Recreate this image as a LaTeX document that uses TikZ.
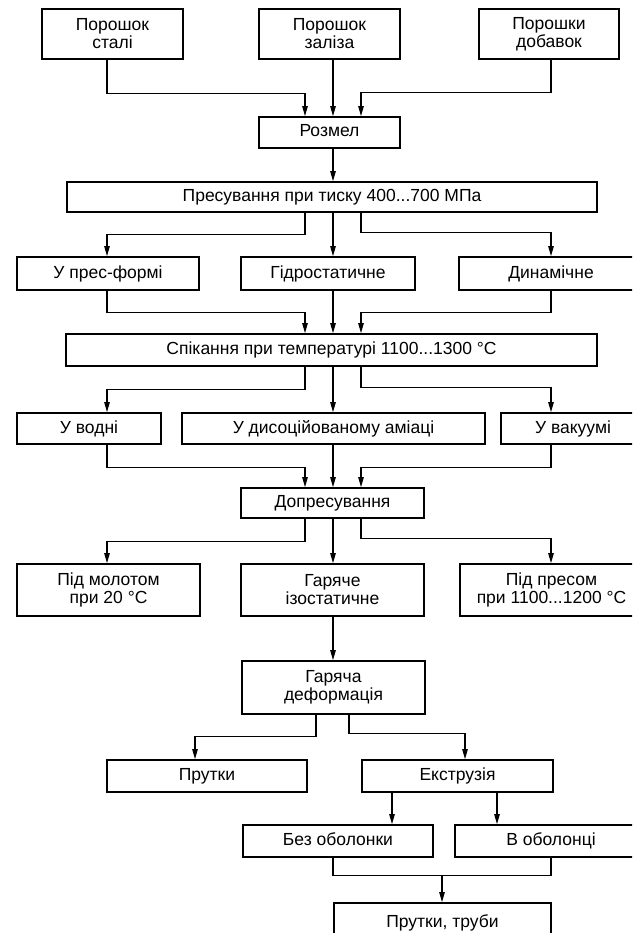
\documentclass[tikz,border=0pt]{standalone}
\usepackage{fontspec}
\setmainfont{Liberation Sans}
\usetikzlibrary{arrows.meta}
\begin{document}
\begin{tikzpicture}[x=1pt,y=-1pt,
  box/.style={draw, line width=1.8pt, inner sep=0pt, align=center,
    font=\fontsize{17.5}{18}\selectfont},
  one/.style={box, text height=12.5pt, text depth=3.5pt},
  con/.style={line width=1.1pt, -{Triangle[length=10pt,width=5.5pt]}},
  lin/.style={line width=1.1pt}]
\useasboundingbox (0,0) rectangle (632,933);
\clip (0,0) rectangle (632,933);
\fill[white] (0,0) rectangle (632,933);

% columns
\coordinate (cL) at (107,0);
\coordinate (cA) at (305,0);
\coordinate (cC) at (333,0);
\coordinate (cB) at (361,0);
\coordinate (cR) at (551,0);
\coordinate (cD) at (316,0);
\coordinate (cE) at (195,0);
\coordinate (cF) at (349,0);
\coordinate (cG) at (465,0);
\coordinate (cH) at (392,0);
\coordinate (cI) at (497,0);

% boxes
\node[box, minimum width=141pt, minimum height=50pt] (st) at (112.5,34) {Порошок\\сталі};
\node[box, minimum width=141pt, minimum height=50pt] (zl) at (329.5,34) {Порошок\\заліза};
\node[box, minimum width=140pt, minimum height=50pt] (db) at (549,34) {Порошки\\добавок};
\node[one, minimum width=141pt, minimum height=31pt] (rz) at (329.5,132.5) {Розмел};
\node[one, minimum width=530pt, minimum height=30pt] (pr) at (332,197) {Пресування при тиску 400...700 МПа};
\node[one, minimum width=182pt, minimum height=33pt] (pf) at (108,273.5) {У прес-формі};
\node[one, minimum width=174pt, minimum height=33pt] (gs) at (328,273.5) {Гідростатичне};
\node[one, minimum width=184pt, minimum height=33pt] (dn) at (551,273.5) {Динамічне};
\node[one, minimum width=531pt, minimum height=32pt] (sp) at (331.5,350) {Спікання при температурі 1100...1300 °C};
\node[one, minimum width=144pt, minimum height=31pt] (vd) at (89,428.5) {У водні};
\node[one, minimum width=303pt, minimum height=31pt] (da) at (333.5,428.5) {У дисоційованому аміаці};
\node[one, minimum width=144pt, minimum height=31pt] (vk) at (573,428.5) {У вакуумі};
\node[one, minimum width=183pt, minimum height=30pt] (dp) at (332.5,503) {Допресування};
\node[box, minimum width=183pt, minimum height=52pt] (pm) at (108.5,590) {Під молотом\\при 20 °C};
\node[box, minimum width=183pt, minimum height=52pt] (gi) at (332.5,590) {Гаряче\\ізостатичне};
\node[box, minimum width=183pt, minimum height=52pt] (pp) at (551.5,590) {Під пресом\\при 1100...1200 °C};
\node[box, minimum width=183pt, minimum height=53pt] (gd) at (333.5,687.5) {Гаряча\\деформація};
\node[one, minimum width=200pt, minimum height=32pt] (pt) at (207,776) {Прутки};
\node[one, minimum width=191pt, minimum height=32pt] (ek) at (457.5,776) {Екструзія};
\node[one, minimum width=190pt, minimum height=32pt] (bo) at (338,841) {Без оболонки};
\node[one, minimum width=192pt, minimum height=32pt] (vo) at (551,841) {В оболонці};
\node[one, minimum width=217pt, minimum height=40pt] (ptt) at (442.5,923) {Прутки, труби};

% connectors
\draw[con] (st.south -| cL) -- ++(0,34) -| (rz.north -| cA);
\draw[con] (zl.south -| cC) -- (rz.north -| cC);
\draw[con] (db.south -| cR) -- ++(0,33) -| (rz.north -| cB);
\draw[con] (rz.south -| cC) -- (pr.north -| cC);

\draw[con] (pr.south -| cA) -- ++(0,22) -| (pf.north -| cL);
\draw[con] (pr.south -| cC) -- (gs.north -| cC);
\draw[con] (pr.south -| cB) -- ++(0,20) -| (dn.north -| cR);

\draw[con] (pf.south -| cL) -- ++(0,22) -| (sp.north -| cA);
\draw[con] (gs.south -| cC) -- (sp.north -| cC);
\draw[con] (dn.south -| cR) -- ++(0,22) -| (sp.north -| cB);

\draw[con] (sp.south -| cA) -- ++(0,23) -| (vd.north -| cL);
\draw[con] (sp.south -| cC) -- (da.north -| cC);
\draw[con] (sp.south -| cB) -- ++(0,21) -| (vk.north -| cR);

\draw[con] (vd.south -| cL) -- ++(0,23) -| (dp.north -| cA);
\draw[con] (da.south -| cC) -- (dp.north -| cC);
\draw[con] (vk.south -| cR) -- ++(0,23) -| (dp.north -| cB);

\draw[con] (dp.south -| cA) -- ++(0,23) -| (pm.north -| cL);
\draw[con] (dp.south -| cC) -- (gi.north -| cC);
\draw[con] (dp.south -| cB) -- ++(0,20) -| (pp.north -| cR);

\draw[con] (gi.south -| cC) -- (gd.north -| cC);

\draw[con] (gd.south -| cD) -- ++(0,22) -| (pt.north -| cE);
\draw[con] (gd.south -| cF) -- ++(0,19) -| (ek.north -| cG);

\draw[con] (ek.south -| cH) -- (bo.north -| cH);
\draw[con] (ek.south -| cI) -- (vo.north -| cI);

\draw[lin] (bo.south -| cC) -- ++(0,18) -| (vo.south -| cR);
\coordinate (m) at (442,875);
\draw[con] (m) -- (ptt.north -| m);
\end{tikzpicture}
\end{document}
